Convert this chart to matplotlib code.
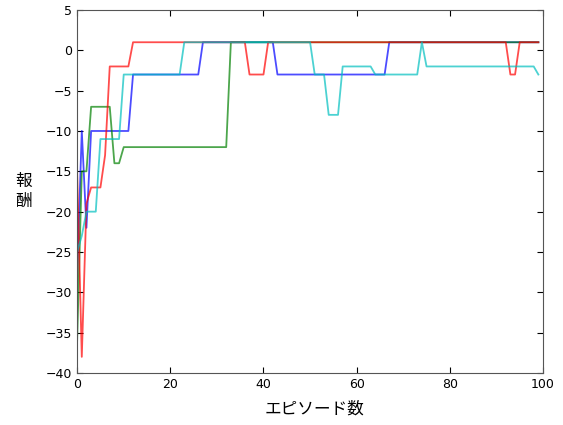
import numpy as np
import matplotlib
matplotlib.use('Agg')
import matplotlib.pyplot as plt

plt.rcParams['font.family'] = ['DejaVu Sans']

episodes = list(range(100))

red = ([-15, -38, -19, -17, -17, -17, -13] + [-2] * 5 + [1] * 25 + [-3] * 4
       + [1] * 52 + [-3] * 2 + [1] * 5)
blue = ([-28, -10, -22] + [-10] * 9 + [-3] * 15 + [1] * 16 + [-3] * 24
        + [1] * 33)
green = ([-36, -15, -15] + [-7] * 5 + [-14] * 2 + [-12] * 23 + [1] * 67)
cyan = ([-25, -23] + [-20] * 3 + [-11] * 5 + [-3] * 13 + [1] * 28 + [-3] * 3
        + [-8] * 3 + [-2] * 7 + [-3] * 10 + [1] + [-2] * 24 + [-3])

fig = plt.figure(figsize=(5.63, 4.25), dpi=100)
ax = fig.add_axes([0.137, 0.1224, 0.8275, 0.8541])

for vals, col in [(blue, 'b'), (green, 'g'), (red, 'r'), (cyan, 'c')]:
    ax.plot(episodes, vals, color=col, lw=1.3, alpha=0.7)

ax.set_xlim(0, 100)
ax.set_ylim(-40, 5)
ax.set_xticks(range(0, 101, 20))
ax.set_yticks(range(-40, 6, 5))
ax.tick_params(direction='in', top=True, right=True, labelsize=9, length=4)
for s in ax.spines.values():
    s.set_color('#555555')

cjk = ['Noto Sans CJK JP', 'DejaVu Sans']
ax.set_xlabel('エピソード数', family=cjk, fontsize=12, va='center')
ax.xaxis.set_label_coords(0.51, -0.1)
ax.set_ylabel('報\n酬', family=cjk, fontsize=12, rotation=0, va='center', ha='center')
ax.yaxis.set_label_coords(-0.114, 0.5)

fig.savefig('out.png', dpi=100, facecolor='white')
